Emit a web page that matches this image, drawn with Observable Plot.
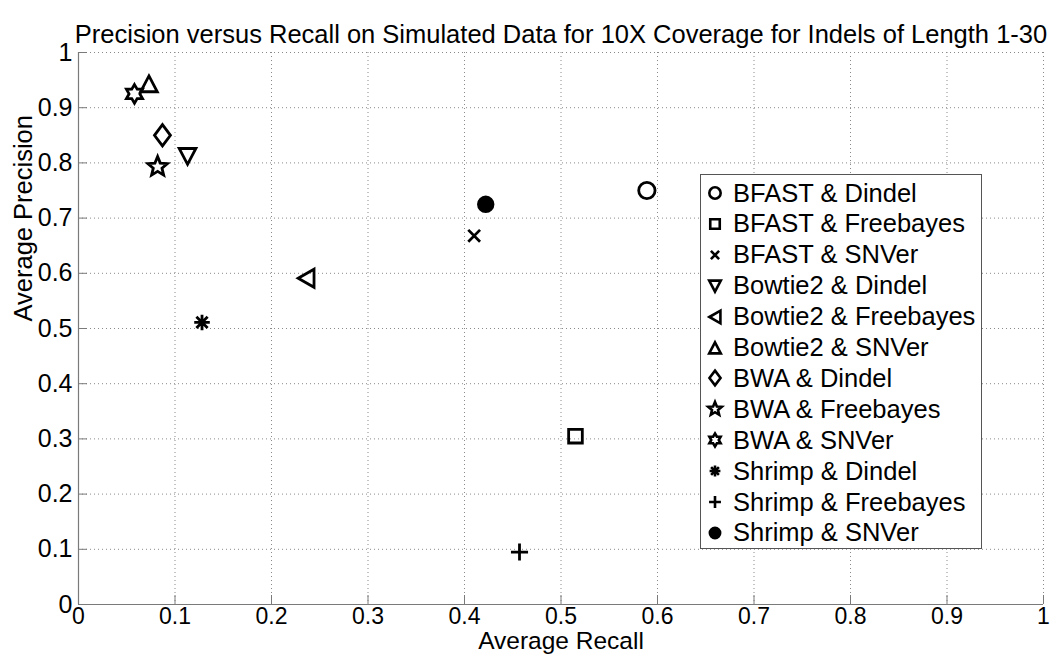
<!DOCTYPE html>
<html><head><meta charset="utf-8">
<script src="https://cdn.jsdelivr.net/npm/d3@7"></script>
<script src="https://cdn.jsdelivr.net/npm/@observablehq/plot@0.6"></script>
<style>
body{margin:0;background:#fff;font-family:"Liberation Sans",Arial,sans-serif;}
#wrap{position:relative;width:1053px;height:660px;overflow:hidden;}
#legend{position:absolute;left:700px;top:174px;width:282px;height:375px;border:1px solid #555;background:#fff;box-sizing:border-box;}
.row{position:absolute;left:0;height:30px;display:flex;align-items:center;font-size:25.5px;white-space:nowrap;color:#000;}
.row svg{display:block;margin-left:1px;margin-right:5px;}
</style></head><body><div id="wrap"></div>
<script>
const title = "Precision versus Recall on Simulated Data for 10X Coverage for Indels of Length 1-30";
const xLabel = "Average Recall";
const yLabel = "Average Precision";
const methods = ["BFAST & Dindel","BFAST & Freebayes","BFAST & SNVer","Bowtie2 & Dindel","Bowtie2 & Freebayes","Bowtie2 & SNVer","BWA & Dindel","BWA & Freebayes","BWA & SNVer","Shrimp & Dindel","Shrimp & Freebayes","Shrimp & SNVer"];
const recall    = [0.589, 0.515, 0.410, 0.113, 0.236, 0.073, 0.087, 0.082, 0.058, 0.128, 0.457, 0.422];
const precision = [0.750, 0.305, 0.668, 0.812, 0.591, 0.943, 0.850, 0.793, 0.925, 0.511, 0.095, 0.725];
const markers = ["circle","square","times","triangleDown","triangleLeft","triangleUp","diamond","pentagram","hexagram","asterisk","plus","disc"];
const xTicks = [0,0.1,0.2,0.3,0.4,0.5,0.6,0.7,0.8,0.9,1];
const yTicks = [0,0.1,0.2,0.3,0.4,0.5,0.6,0.7,0.8,0.9,1];

const rad = s => Math.sqrt(s / Math.PI);
function poly(c, pts){ c.moveTo(pts[0][0], pts[0][1]); for (let i = 1; i < pts.length; i++) c.lineTo(pts[i][0], pts[i][1]); c.closePath(); }
function star(n, ro, ri){ const p=[]; for(let i=0;i<2*n;i++){ const a=-Math.PI/2 + i*Math.PI/n; const r=i%2?ri:ro; p.push([r*Math.cos(a), r*Math.sin(a)]);} return p; }
const shapes = {
  circle: {draw(c,s){const r=rad(s)*0.86; c.moveTo(r,0); c.arc(0,0,r,0,2*Math.PI);}},
  disc: {draw(c,s){const r=rad(s)*0.78; c.moveTo(r,0); c.arc(0,0,r,0,2*Math.PI);}},
  square: {draw(c,s){const r=rad(s)*0.72; poly(c,[[-r,-r],[r,-r],[r,r],[-r,r]]);}},
  times: {draw(c,s){const r=rad(s)*0.62; c.moveTo(-r,-r); c.lineTo(r,r); c.moveTo(-r,r); c.lineTo(r,-r);}},
  plus: {draw(c,s){const r=rad(s)*0.9; c.moveTo(-r,0); c.lineTo(r,0); c.moveTo(0,-r); c.lineTo(0,r);}},
  asterisk: {draw(c,s){const r=rad(s)*0.82, d=r*0.72; c.moveTo(-r,0); c.lineTo(r,0); c.moveTo(0,-r); c.lineTo(0,r); c.moveTo(-d,-d); c.lineTo(d,d); c.moveTo(-d,d); c.lineTo(d,-d);}},
  triangleUp: {draw(c,s){const r=rad(s); poly(c,[[0,-0.85*r],[0.88*r,0.82*r],[-0.88*r,0.82*r]]);}},
  triangleDown: {draw(c,s){const r=rad(s); poly(c,[[0,0.85*r],[0.88*r,-0.82*r],[-0.88*r,-0.82*r]]);}},
  triangleLeft: {draw(c,s){const r=rad(s); poly(c,[[-0.85*r,0],[0.82*r,-0.95*r],[0.82*r,0.95*r]]);}},
  diamond: {draw(c,s){const r=rad(s); poly(c,[[0,-1.12*r],[0.84*r,0],[0,1.12*r],[-0.84*r,0]]);}},
  pentagram: {draw(c,s){const r=rad(s); poly(c, star(5, 1.08*r, 0.48*r));}},
  hexagram: {draw(c,s){const r=rad(s); poly(c, star(6, 0.98*r, 0.57*r));}}
};

const rows = methods.map((m, i) => ({method: m, recall: recall[i], precision: precision[i], marker: markers[i]}));
const font = "Liberation Sans, Arial, sans-serif";

const plot = Plot.plot({
  width: 1053, height: 660,
  marginLeft: 78, marginRight: 10, marginTop: 52, marginBottom: 56,
  style: {fontFamily: font, fontSize: "24px", color: "black", background: "white", overflow: "visible"},
  x: {domain: [0, 1]},
  y: {domain: [0, 1]},
  symbol: {domain: markers, range: markers.map(m => shapes[m])},
  marks: [
    Plot.gridX(xTicks, {stroke: "#8a8a8a", strokeOpacity: 1, strokeDasharray: "1,3"}),
    Plot.gridY(yTicks, {stroke: "#8a8a8a", strokeOpacity: 1, strokeDasharray: "1,3"}),
    Plot.ruleX([0], {stroke: "#7a7a7a", strokeWidth: 1.2}),
    Plot.ruleY([0], {stroke: "#7a7a7a", strokeWidth: 1.2}),
    Plot.axisX(xTicks, {tickSize: -9, tickPadding: 12, stroke: "#7a7a7a", fill: "black", fontSize: 23, tickFormat: d => String(d), label: null}),
    Plot.axisY(yTicks, {tickSize: -9, tickPadding: 15, stroke: "#7a7a7a", fill: "black", fontSize: 25, tickFormat: d => String(d), label: null}),
    Plot.text([title], {frameAnchor: "top", dy: -28, fontSize: 25.5, fill: "black"}),
    Plot.text([xLabel], {frameAnchor: "bottom", dy: 44, fontSize: 24.5, fill: "black"}),
    Plot.text([yLabel], {frameAnchor: "left", dx: -55, dy: -7, rotate: -90, fontSize: 25.5, fill: "black"}),
    Plot.dot(rows, {filter: d => d.marker !== "disc", x: "recall", y: "precision", symbol: "marker", r: 9.5, fill: "none", stroke: "black", strokeWidth: 2.8}),
    Plot.dot(rows, {filter: d => d.marker === "disc", x: "recall", y: "precision", symbol: "marker", r: 9.5, fill: "black", stroke: "black", strokeWidth: 2.6})
  ]
});

const wrap = document.getElementById("wrap");
wrap.appendChild(plot);

// legend
const legend = document.createElement("div");
legend.id = "legend";
const legendR = 6.6;
const legendSize = Math.PI * legendR * legendR;
methods.forEach((m, i) => {
  const row = document.createElement("div");
  row.className = "row";
  row.style.top = (3 + i * 30.9) + "px";
  const sym = markers[i];
  const path = d3.symbol(shapes[sym], legendSize)();
  const filled = sym === "disc";
  row.innerHTML = `<svg width="26" height="26" viewBox="-13 -13 26 26"><path d="${path}" fill="${filled ? "black" : "none"}" stroke="black" stroke-width="2.6" stroke-linejoin="miter"></path></svg><span>${m.replace(/&/g, "&amp;")}</span>`;
  legend.appendChild(row);
});
wrap.appendChild(legend);
</script>
</body></html>
